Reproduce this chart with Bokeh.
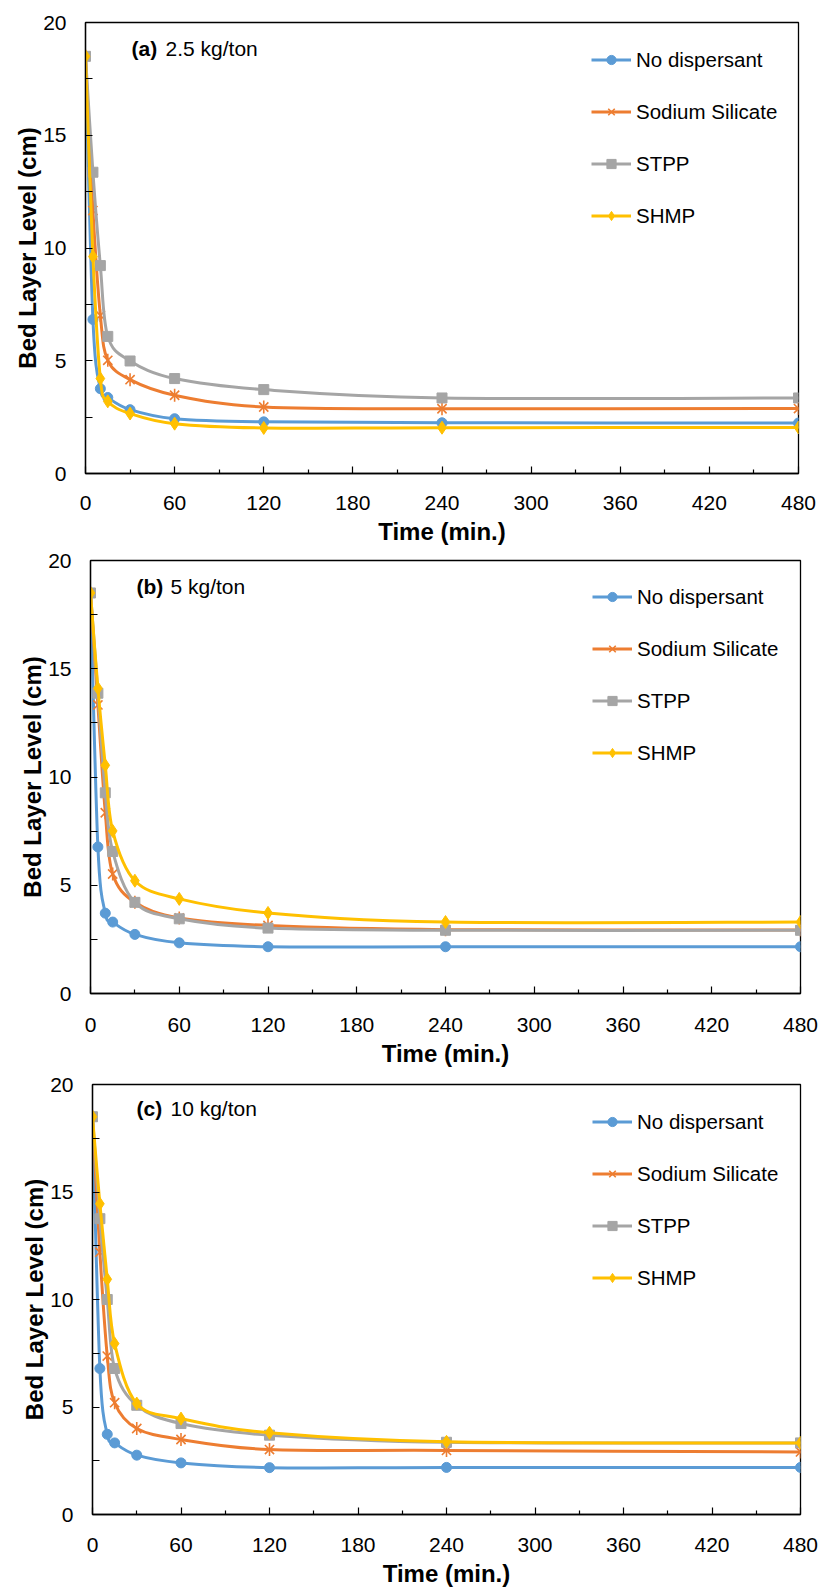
from bokeh.plotting import figure
from bokeh.models import FixedTicker, Legend, LegendItem, Label, Range1d
from bokeh.embed import file_html
from bokeh.resources import INLINE
import math

# ---------------- data ----------------
time = [0, 5, 10, 15, 30, 60, 120, 240, 480]

series_names = ["No dispersant", "Sodium Silicate", "STPP", "SHMP"]
colors = ["#5B9BD5", "#ED7D31", "#A5A5A5", "#FFC000"]

no_disp_a = [18.5, 6.83, 3.76, 3.37, 2.83, 2.43, 2.29, 2.25, 2.24]
sodium_a = [18.5, 11.66, 7.01, 5.02, 4.16, 3.47, 2.95, 2.87, 2.88]
stpp_a = [18.5, 13.36, 9.22, 6.08, 4.99, 4.21, 3.72, 3.35, 3.35]
shmp_a = [18.5, 9.62, 4.21, 3.20, 2.66, 2.21, 2.02, 2.03, 2.04]

no_disp_b = [18.5, 6.77, 3.71, 3.30, 2.73, 2.34, 2.16, 2.16, 2.16]
sodium_b = [18.5, 13.33, 8.35, 5.52, 4.21, 3.49, 3.14, 2.95, 2.93]
stpp_b = [18.5, 13.87, 9.27, 6.56, 4.21, 3.45, 3.02, 2.92, 2.92]
shmp_b = [18.5, 14.10, 10.54, 7.51, 5.21, 4.37, 3.72, 3.30, 3.30]

no_disp_c = [18.5, 6.79, 3.73, 3.33, 2.76, 2.40, 2.18, 2.19, 2.19]
sodium_c = [18.5, 12.20, 7.37, 5.20, 4.00, 3.49, 3.02, 2.98, 2.91]
stpp_c = [18.5, 13.76, 10.00, 6.79, 5.08, 4.23, 3.69, 3.36, 3.33]
shmp_c = [18.5, 14.45, 10.94, 7.95, 5.16, 4.46, 3.80, 3.38, 3.33]

panel_tags = ["(a)", "(b)", "(c)"]
panel_doses = ["2.5 kg/ton", "5 kg/ton", "10 kg/ton"]

x_ticks = [0, 60, 120, 180, 240, 300, 360, 420, 480]
y_ticks = [0, 5, 10, 15, 20]
x_label = "Time (min.)"
y_label = "Bed Layer Level (cm)"

FONT = "Liberation Sans"

# layout (pixels)
layouts = [
    dict(h=548, top=22, bottom=75, left=85, right=24, tag_x=46, tag_dy=26, leg_x=506, tstand=22),
    dict(h=521, top=12, bottom=75, left=90, right=22, tag_x=46, tag_dy=27, leg_x=502, tstand=24),
    dict(h=520, top=15, bottom=75, left=92, right=22, tag_x=44, tag_dy=24, leg_x=500, tstand=23),
]


def bezier_segments(x, y):
    """Smooth (Catmull-Rom style) bezier control points, like a spreadsheet's smoothed line."""
    n = len(x)
    out = dict(x0=[], y0=[], x1=[], y1=[], cx0=[], cy0=[], cx1=[], cy1=[])
    for i in range(n - 1):
        pm = max(i - 1, 0)
        pp = min(i + 2, n - 1)
        out["x0"].append(x[i]); out["y0"].append(y[i])
        out["x1"].append(x[i + 1]); out["y1"].append(y[i + 1])
        out["cx0"].append(x[i] + (x[i + 1] - x[pm]) / 6.0)
        out["cy0"].append(y[i] + (y[i + 1] - y[pm]) / 6.0)
        out["cx1"].append(x[i + 1] - (x[pp] - x[i]) / 6.0)
        out["cy1"].append(y[i + 1] - (y[pp] - y[i]) / 6.0)
    return out


def make_panel(idx, series):
    L = layouts[idx]
    p = figure(width=822, height=L["h"],
               x_range=Range1d(x_ticks[0], x_ticks[-1]), y_range=Range1d(y_ticks[0], y_ticks[-1]),
               min_border_left=L["left"], min_border_right=L["right"],
               min_border_top=L["top"], min_border_bottom=L["bottom"],
               output_backend="svg", toolbar_location=None)
    p.grid.visible = False
    p.outline_line_color = "black"
    p.outline_line_width = 1.3
    p.background_fill_color = "white"
    p.border_fill_color = "white"

    p.xaxis.ticker = FixedTicker(ticks=x_ticks, minor_ticks=[t + 30 for t in x_ticks[:-1]])
    p.yaxis.ticker = FixedTicker(ticks=y_ticks, minor_ticks=[t + 2.5 for t in y_ticks[:-1]])
    for ax in (p.xaxis[0], p.yaxis[0]):
        ax.axis_line_color = "black"
        ax.axis_line_width = 1.3
        ax.major_tick_line_color = "black"
        ax.minor_tick_line_color = "black"
        ax.major_tick_line_width = 1.2
        ax.minor_tick_line_width = 1.2
        ax.major_tick_out = 0
        ax.minor_tick_out = 0
        ax.major_label_text_font = FONT
        ax.major_label_text_font_size = "21px"
        ax.major_label_text_color = "black"
        ax.axis_label_text_font = FONT
        ax.axis_label_text_font_size = "24px"
        ax.axis_label_text_font_style = "bold"
        ax.axis_label_text_color = "black"
    p.xaxis.major_tick_in = 7
    p.xaxis.minor_tick_in = 4
    p.yaxis.major_tick_in = 7
    p.yaxis.minor_tick_in = 7
    p.xaxis.axis_label = x_label
    p.yaxis.axis_label = y_label
    p.xaxis.major_label_standoff = L["tstand"]
    p.xaxis.axis_label_standoff = 5
    p.yaxis.major_label_standoff = 19
    p.yaxis.axis_label_standoff = -1

    items = []
    markers = ["circle", "star", "square", "diamond"]
    for vals, name, col, mk in zip(series, series_names, colors, markers):
        seg = bezier_segments(time, vals)
        ln = p.bezier(x0=seg["x0"], y0=seg["y0"], x1=seg["x1"], y1=seg["y1"],
                      cx0=seg["cx0"], cy0=seg["cy0"], cx1=seg["cx1"], cy1=seg["cy1"],
                      line_color=col, line_width=3)
        rends = [ln]
        if mk == "star":
            r1 = p.scatter(x=time, y=vals, marker="x", size=13, line_color=col, line_width=1.6)
            r2 = p.scatter(x=time, y=vals, marker="dash", size=13, angle=math.pi / 2,
                           line_color=col, line_width=1.6)
            rends += [r1, r2]
        else:
            size = {"circle": 10, "square": 10, "diamond": 13}[mk]
            r = p.scatter(x=time, y=vals, marker=mk, size=size, fill_color=col,
                          line_color=col, line_width=1)
            rends.append(r)
        items.append(LegendItem(label=name, renderers=rends))

    frame_h = L["h"] - L["top"] - L["bottom"]
    legend_top = 29.5
    legend_h = 4 * 23 + 3 * 28
    legend = Legend(items=items, location=(L["leg_x"], frame_h - legend_top - legend_h),
                    glyph_width=40, glyph_height=23, label_height=23, label_standoff=5,
                    spacing=28, padding=0, margin=0,
                    border_line_alpha=0, background_fill_alpha=0,
                    label_text_font=FONT, label_text_font_size="20.5px",
                    label_text_color="black")
    p.add_layout(legend)

    tag = Label(x=L["tag_x"], y=frame_h - L["tag_dy"], x_units="screen", y_units="screen",
                text=panel_tags[idx], text_font=FONT, text_font_style="bold",
                text_font_size="21px", text_baseline="middle", text_color="black")
    dose = Label(x=L["tag_x"] + 34, y=frame_h - L["tag_dy"], x_units="screen", y_units="screen",
                 text=panel_doses[idx], text_font=FONT, text_font_style="normal",
                 text_font_size="21px", text_baseline="middle", text_color="black")
    p.add_layout(tag)
    p.add_layout(dose)
    return p


pa = make_panel(0, [no_disp_a, sodium_a, stpp_a, shmp_a])
pb = make_panel(1, [no_disp_b, sodium_b, stpp_b, shmp_b])
pc = make_panel(2, [no_disp_c, sodium_c, stpp_c, shmp_c])

open("out.html", "w").write(file_html([pa, pb, pc], INLINE))
